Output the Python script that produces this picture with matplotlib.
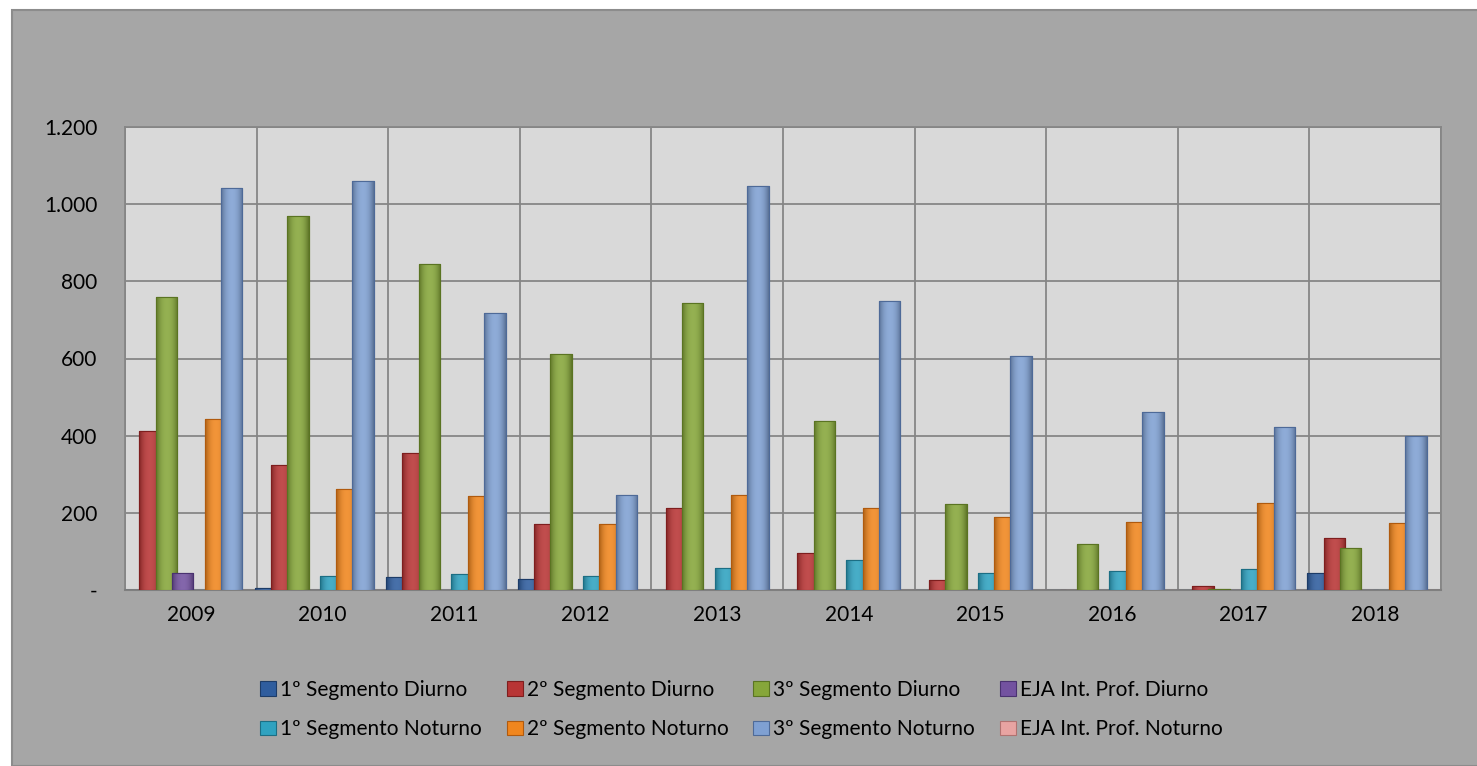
import numpy as np
import matplotlib
matplotlib.use("Agg")
import matplotlib.pyplot as plt
from matplotlib.patches import Rectangle
from matplotlib.colors import to_rgb

years = ["2009", "2010", "2011", "2012", "2013", "2014", "2015", "2016", "2017", "2018"]

seg1_diurno = [0, 6, 34, 28, 0, 0, 0, 0, 0, 45]
seg2_diurno = [413, 325, 354, 170, 212, 96, 27, 0, 10, 136]
seg3_diurno = [759, 970, 846, 612, 743, 439, 222, 120, 2, 109]
eja_diurno = [45, 0, 0, 0, 0, 0, 0, 0, 0, 0]
seg1_noturno = [0, 36, 42, 37, 57, 77, 45, 50, 55, 0]
seg2_noturno = [443, 263, 243, 170, 245, 212, 189, 176, 226, 173]
seg3_noturno = [1041, 1061, 717, 245, 1046, 748, 606, 462, 422, 400]
eja_noturno = [0, 0, 0, 0, 0, 0, 0, 0, 0, 0]

labels = ["1º Segmento Diurno", "2º Segmento Diurno", "3º Segmento Diurno",
          "EJA Int. Prof. Diurno", "1º Segmento Noturno", "2º Segmento Noturno",
          "3º Segmento Noturno", "EJA Int. Prof. Noturno"]
values = [seg1_diurno, seg2_diurno, seg3_diurno, eja_diurno,
          seg1_noturno, seg2_noturno, seg3_noturno, eja_noturno]
colors = ["#2F5D9E", "#B83535", "#86A63A", "#7352A0",
          "#2FA2C0", "#F0861E", "#7FA0D2", "#E8A4A2"]
edges = ["#1D3C68", "#7E1E1E", "#5A7422", "#4A3270",
         "#1C6E84", "#B05A0E", "#4E6A98", "#B07270"]

plt.rcParams['font.family'] = ['Lato', 'DejaVu Sans']
FS = 15

W, H = 1477, 766
fig = plt.figure(figsize=(W / 100, H / 100), dpi=100)
fig.patch.set_facecolor("white")
fig.patches.append(Rectangle((12 / W, 0), 1, 1 - 10 / H, transform=fig.transFigure,
                             facecolor="#A6A6A6", edgecolor="#8C8C8C", lw=1.5, zorder=-10))

ax = fig.add_axes([125 / W, 1 - 590 / H, (1441 - 125) / W, (590 - 127) / H])
ax.set_facecolor("#D9D9D9")


def shade(color, n=32):
    base = np.array(to_rgb(color))
    t = np.linspace(-1, 1, n)
    prof = 1 - np.abs(t) ** 2.2          # 1 in the middle, 0 at the edges
    dark = base * 0.72
    light = np.clip(base + (1 - base) * 0.12, 0, 1)
    rgb = dark[None, :] + (light - dark)[None, :] * prof[:, None]
    return rgb[None, :, :]


x = np.arange(len(years))
step, width = 0.124, 0.163
handles = []
for i, (vals, c, e, lab) in enumerate(zip(values, colors, edges, labels)):
    b = ax.bar(x + (i - 3.5) * step, vals, width, color=c, edgecolor=e, lw=0.8,
               zorder=3 + i, label=lab)
    handles.append(b)
    grad = shade(c)
    for r in b.patches:
        h = r.get_height()
        if h <= 0:
            continue
        x0 = r.get_x()
        im = ax.imshow(grad, extent=[x0, x0 + r.get_width(), 0, h], aspect="auto",
                       interpolation="bilinear", zorder=3 + i + 0.01)
        im.set_clip_path(r)
        ax.bar(x0 + r.get_width() / 2, h, r.get_width(), fill=False, edgecolor=e,
               lw=0.8, zorder=3 + i + 0.02)

ax.set_xlim(-0.5, len(years) - 0.5)
ax.set_ylim(0, 1200)
ax.set_aspect("auto")
yt = [0, 200, 400, 600, 800, 1000, 1200]
ax.set_yticks(yt)
ax.set_yticklabels(["-" if v == 0 else f"{v:,}".replace(",", ".") for v in yt])
ax.set_xticks(x)
ax.set_xticklabels(years)
ax.set_xticks(np.arange(-0.5, len(years), 1), minor=True)
ax.grid(axis="y", which="major", color="#868686", lw=1.3, zorder=1)
ax.grid(axis="x", which="minor", color="#868686", lw=1.3, zorder=1)
ax.grid(axis="x", which="major", visible=False)
ax.tick_params(axis="both", which="both", length=0, labelsize=FS, colors="black")
ax.tick_params(axis="x", pad=11)
ax.tick_params(axis="y", pad=20)
for s in ["left", "right", "top"]:
    ax.spines[s].set_color("#868686")
    ax.spines[s].set_linewidth(1.3)
ax.spines["bottom"].set_color("#7F7F7F")
ax.spines["bottom"].set_linewidth(1.5)

order = [0, 4, 1, 5, 2, 6, 3, 7]
leg = fig.legend([handles[k] for k in order], [labels[k] for k in order],
                 ncol=4, loc="center", bbox_to_anchor=(741.5 / W, 1 - 709.5 / H),
                 frameon=False, fontsize=FS, handlelength=0.75, handleheight=0.7,
                 handletextpad=0.2, columnspacing=1.2, labelspacing=0.93)

fig.savefig("out.png", dpi=100, facecolor="white")
